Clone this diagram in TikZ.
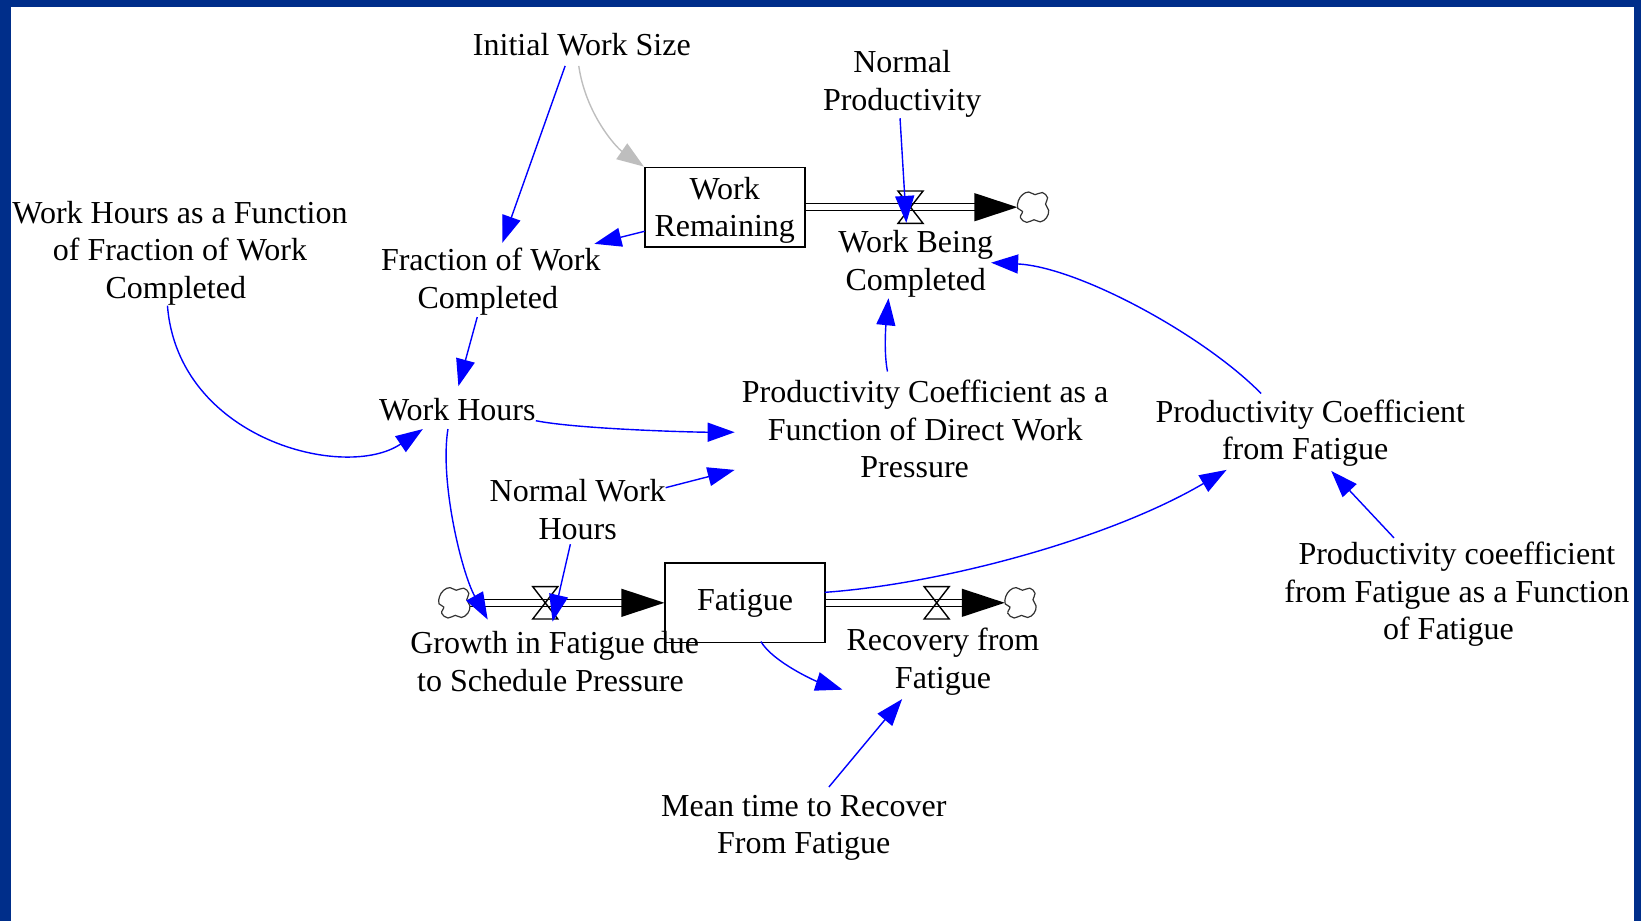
\documentclass[tikz,border=0pt]{standalone}
\usepackage{fontspec}
\setmainfont{Liberation Serif}
\usetikzlibrary{arrows.meta,calc}
\definecolor{framecol}{RGB}{0,46,138}
\definecolor{linkblue}{RGB}{0,0,255}
\definecolor{initgray}{RGB}{190,190,190}
% hourglass-shaped flow valve centred on a named coordinate
\newcommand\flowvalve[1]{%
  \draw[valveshape] ($(#1)+(-12,-15.5)$) -- ($(#1)+(12,-15.5)$) --
    ($(#1)+(-12,15.5)$) -- ($(#1)+(12,15.5)$) -- cycle;}
% filled flow arrowhead whose tip sits on the given point
\newcommand\flowtip[1]{%
  \fill ($(#1)+(-41,-13.5)$) -- (#1) -- ($(#1)+(-41,13.5)$) -- cycle;}
% wobbly source/sink cloud outline around a named node
\newcommand\flowcloud[1]{%
  \draw[cloudline,shift={(#1)}] plot[smooth cycle,tension=0.7] coordinates {
    (-10,-12) (-4,-14.5) (2,-12) (9,-14) (14,-9) (12,-3) (15,3) (13,10)
    (7,14) (1,12) (-6,14.5) (-12,10) (-10,4) (-14.5,1) (-14,-6)};}
\begin{document}
\begin{tikzpicture}[x=0.5233pt,y=-0.5233pt,
  txt/.style={font=\fontsize{16}{18.8}\selectfont},
  lbl/.style={txt,align=center,inner sep=0pt},
  stock/.style={draw,line width=0.8pt,minimum width=80pt,minimum height=39.8pt,inner sep=0pt},
  link/.style={linkblue,line width=0.7pt,-{Triangle[length=13.5pt,width=9.5pt]}},
  initlink/.style={initgray,line width=0.7pt,-{Triangle[length=13.5pt,width=9.5pt]}},
  pipe/.style={double,double distance=3pt,line width=0.6pt},
  cloudspot/.style={circle,minimum size=15.2pt,inner sep=0pt},
  cloudline/.style={draw=black!80,line width=0.6pt,fill=white},
  valveshape/.style={line width=0.7pt}]
\useasboundingbox (0,0) rectangle (1568,880);
% frame strips
\fill[framecol] (0,0) rectangle (10.5,880);
\fill[framecol] (0,0) rectangle (1568,6.7);
\fill[framecol] (1561,0) rectangle (1568,880);

% stocks
\node[stock,label={[lbl,yshift=-1.5pt]center:Work\\Remaining}] (wr) at (692.5,198) {};
\node[stock,label={[lbl,yshift=-0.5pt]center:Fatigue}] (fat) at (712,576) {};

% clouds and valves
\node[cloudspot] (c1) at (987,198) {};
\node[cloudspot] (c2) at (434,576) {};
\node[cloudspot] (c3) at (975,576) {};
\coordinate (v1) at (870,198);
\coordinate (v2) at (521,576);
\coordinate (v3) at (895,576);

% auxiliary variables
\node[lbl] (iws) at (556,43) {Initial Work Size};
\node[lbl] (np) at (862,80) {Normal\\Productivity};
\node[lbl] (wbc) at (875,252) {Work Being\\Completed};
\node[lbl] (fwc) at (469,269) {Fraction of Work\\Completed\hspace*{3pt}};
\node[lbl] (whf) at (172,242) {Work Hours as a Function\\of Fraction of Work\\Completed\hspace*{4.2pt}};
\node[lbl] (wh) at (437,391) {Work Hours};
\node[lbl] (pcd) at (884,410) {Productivity Coefficient as a\\Function of Direct Work\hspace*{4.2pt}\\Pressure\hspace*{10.5pt}};
\node[lbl] (pcf) at (1252,414) {Productivity Coefficient\\from Fatigue\hspace*{5.2pt}};
\node[lbl] (nwh) at (552,487) {Normal Work\\Hours};
\node[lbl] (gf) at (530,632) {Growth in Fatigue due\\to Schedule Pressure\hspace*{4.2pt}};
\node[lbl] (rf) at (901,632) {Recovery from\\Fatigue};
\node[lbl] (pcff) at (1392,568) {Productivity coeefficient\\from Fatigue as a Function\\of Fatigue\hspace*{8.4pt}};
\node[lbl] (mtr) at (768,791) {Mean time to Recover\\From Fatigue};

% flow pipes
\draw[pipe] (wr.east) -- ($(c1.west)+(-40,0)$);
\flowtip{c1.west}
\draw[pipe] (c2.east) -- ($(fat.west)+(-40,0)$);
\flowtip{fat.west}
\draw[pipe] (fat.east) -- ($(c3.west)+(-40,0)$);
\flowtip{c3.west}
\flowcloud{c1}
\flowcloud{c2}
\flowcloud{c3}
\flowvalve{v1}
\flowvalve{v2}
\flowvalve{v3}

% information links
\draw[initlink] ($(iws)+(-3,20)$) .. controls +(7,47) and +(-26,-18) .. (wr.north west);
\draw[link] ($(iws)+(-16,20)$) -- ($(fwc)+(11,-37)$);
\draw[link] ($(np)+(-2,33)$) -- ($(v1)+(-4,15)$);
\draw[link] ($(wr)+(-76.5,23)$) -- ($(fwc)+(99,-36)$);
\draw[link] ($(fwc)+(-13,34)$) -- ($(wh)+(1,-22)$);
\draw[link] ($(whf)+(-12,50)$) .. controls +(10,128) and +(-74,50) .. ($(wh)+(-33,19)$);
\draw[link] ($(wh)+(75,11)$) .. controls +(40,8) and +(-40,0) .. ($(pcd)+(-182,3)$);
\draw[link] ($(nwh)+(84,-21)$) -- ($(pcd)+(-182,39)$);
\draw[link] ($(pcd)+(-36,-55)$) .. controls +(-4,-20) and +(-2,20) .. ($(wbc)+(-26,33)$);
\draw[link] ($(pcf)+(-47,-38)$) .. controls +(-55,-56) and +(83,4) .. ($(wbc)+(72,-1)$);
\draw[link] ($(wh)+(-9,19)$) .. controls +(-8,50) and +(-25,-45) .. ($(gf)+(-64,-40)$);
\draw[link] ($(nwh)+(-7,33)$) -- ($(gf)+(-2,-38)$);
\draw[link] ($(fat)+(76,-10)$) .. controls +(112,-8) and +(-112,66) .. ($(pcf)+(-80,35)$);
\draw[link] ($(pcff)+(-60,-54)$) -- ($(pcf)+(20,36)$);
\draw[link] ($(fat)+(15,37)$) .. controls +(12,20) and +(-25,-8) .. ($(rf)+(-96,27)$);
\draw[link] ($(mtr)+(24,-39)$) -- ($(rf)+(-39,36)$);
\end{tikzpicture}
\end{document}
